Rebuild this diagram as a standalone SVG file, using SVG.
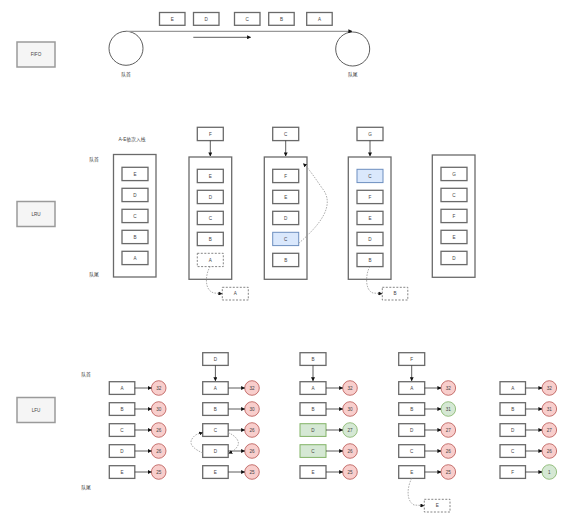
<svg xmlns="http://www.w3.org/2000/svg" width="567" height="520" viewBox="0 0 567 520">
<defs>
<style>
.bg{fill:#ffffff}
.lbl{fill:#f5f5f5;stroke:#9a9a9a;stroke-width:1.5}
.box{fill:#ffffff;stroke:#6a6a6a;stroke-width:1.3}
.cont{fill:#ffffff;stroke:#6a6a6a;stroke-width:1.3}
.dash{fill:#ffffff;stroke:#777;stroke-width:0.9;stroke-dasharray:2 1.5}
.blue{fill:#dae8fc;stroke:#6c8ebf;stroke-width:1}
.green{fill:#d5e8d4;stroke:#82b366;stroke-width:1}
.red{fill:#f8cecc;stroke:#b85450;stroke-width:0.8}
.gc{fill:#d5e8d4;stroke:#82b366;stroke-width:0.8}
.ring{fill:#ffffff;stroke:#333;stroke-width:0.8}
text{font-family:"Liberation Sans","Noto Sans CJK SC",sans-serif;font-size:4.6px;fill:#444;text-anchor:middle;dominant-baseline:central}
.cn{font-size:4.8px}
.ln{fill:none;stroke:#333;stroke-width:0.8}
.dl{fill:none;stroke:#999;stroke-width:0.8;stroke-dasharray:1.6 1.2}
</style>
<marker id="ah" viewBox="0 0 10 10" refX="9" refY="5" markerWidth="4" markerHeight="4" markerUnits="userSpaceOnUse" orient="auto">
<path d="M0,0 L10,5 L0,10 Z" fill="#111"/>
</marker>
</defs>
<rect class="bg" x="0" y="0" width="567" height="520"/>

<!-- FIFO -->
<g id="fifo-label"><rect class="lbl" x="17" y="42" width="38" height="25"/><text x="36" y="54.5">FIFO</text></g>
<g id="fifo-E"><rect class="box" x="159.5" y="12.5" width="25.5" height="12.8"/><text x="172.2" y="19">E</text></g>
<g id="fifo-D"><rect class="box" x="193.5" y="12.5" width="25.5" height="12.8"/><text x="206.2" y="19">D</text></g>
<g id="fifo-C"><rect class="box" x="234.5" y="12.5" width="25.5" height="12.8"/><text x="247.2" y="19">C</text></g>
<g id="fifo-B"><rect class="box" x="268.7" y="12.5" width="25.5" height="12.8"/><text x="281.5" y="19">B</text></g>
<g id="fifo-A"><rect class="box" x="306.7" y="12.5" width="25.5" height="12.8"/><text x="319.5" y="19">A</text></g>
<g id="fifo-head"><circle class="ring" cx="126" cy="48.3" r="17"/><text class="cn" x="126" y="74">队首</text></g>
<g id="fifo-tail"><circle class="ring" cx="352.7" cy="49" r="17"/><text class="cn" x="352.7" y="74.7">队尾</text></g>

<!-- LRU -->
<g id="lru-label"><rect class="lbl" x="17" y="201.5" width="38" height="25"/><text x="36" y="214">LRU</text></g>
<text class="cn" x="132" y="139">A-E依次入栈</text>
<text class="cn" x="94" y="159">队首</text>
<text class="cn" x="94" y="274">队尾</text>

<g id="lru-q1">
<rect class="cont" x="113.5" y="154.5" width="42.5" height="122.5"/>
<rect class="box" x="122" y="167.3" width="26" height="13.3"/><text x="135" y="174">E</text>
<rect class="box" x="122" y="188.3" width="26" height="13.3"/><text x="135" y="195">D</text>
<rect class="box" x="122" y="209.3" width="26" height="13.3"/><text x="135" y="216">C</text>
<rect class="box" x="122" y="230.3" width="26" height="13.3"/><text x="135" y="237">B</text>
<rect class="box" x="122" y="251.3" width="26" height="13.3"/><text x="135" y="258">A</text>
</g>

<g id="lru-in1"><rect class="box" x="197.3" y="127.3" width="26" height="13.3"/><text x="210.3" y="134">F</text></g>
<g id="lru-q2">
<rect class="cont" x="189" y="157" width="42.7" height="122.3"/>
<rect class="box" x="197.3" y="169.3" width="26" height="13.3"/><text x="210.3" y="176">E</text>
<rect class="box" x="197.3" y="190.3" width="26" height="13.3"/><text x="210.3" y="197">D</text>
<rect class="box" x="197.3" y="211.3" width="26" height="13.3"/><text x="210.3" y="218">C</text>
<rect class="box" x="197.3" y="232.3" width="26" height="13.3"/><text x="210.3" y="239">B</text>
<rect class="dash" x="197.3" y="253.3" width="26" height="13.3"/><text x="210.3" y="260">A</text>
</g>
<g id="lru-out1"><rect class="dash" x="222.3" y="287.3" width="26" height="12.7"/><text x="235.3" y="293.7">A</text></g>

<g id="lru-in2"><rect class="box" x="272.7" y="127.3" width="26" height="13.3"/><text x="285.7" y="134">C</text></g>
<g id="lru-q3">
<rect class="cont" x="264.3" y="157" width="42.7" height="122.3"/>
<rect class="box" x="272.7" y="169.3" width="26" height="13.3"/><text x="285.7" y="176">F</text>
<rect class="box" x="272.7" y="190.3" width="26" height="13.3"/><text x="285.7" y="197">E</text>
<rect class="box" x="272.7" y="211.3" width="26" height="13.3"/><text x="285.7" y="218">D</text>
<rect class="blue" x="272.7" y="232.3" width="26" height="13.3"/><text x="285.7" y="239">C</text>
<rect class="box" x="272.7" y="253.3" width="26" height="13.3"/><text x="285.7" y="260">B</text>
</g>

<g id="lru-in3"><rect class="box" x="357" y="127.3" width="26" height="13.3"/><text x="370" y="134">G</text></g>
<g id="lru-q4">
<rect class="cont" x="348.3" y="157" width="42.7" height="122.3"/>
<rect class="blue" x="357" y="169.3" width="26" height="13.3"/><text x="370" y="176">C</text>
<rect class="box" x="357" y="190.3" width="26" height="13.3"/><text x="370" y="197">F</text>
<rect class="box" x="357" y="211.3" width="26" height="13.3"/><text x="370" y="218">E</text>
<rect class="box" x="357" y="232.3" width="26" height="13.3"/><text x="370" y="239">D</text>
<rect class="box" x="357" y="253.3" width="26" height="13.3"/><text x="370" y="260">B</text>
</g>
<g id="lru-out2"><rect class="dash" x="382.3" y="287.3" width="25.5" height="12.7"/><text x="395" y="293.7">B</text></g>

<g id="lru-q5">
<rect class="cont" x="432.3" y="155" width="42.7" height="122.3"/>
<rect class="box" x="441" y="167.3" width="26" height="13.3"/><text x="454" y="174">G</text>
<rect class="box" x="441" y="188.3" width="26" height="13.3"/><text x="454" y="195">C</text>
<rect class="box" x="441" y="209.3" width="26" height="13.3"/><text x="454" y="216">F</text>
<rect class="box" x="441" y="230.3" width="26" height="13.3"/><text x="454" y="237">E</text>
<rect class="box" x="441" y="251.3" width="26" height="13.3"/><text x="454" y="258">D</text>
</g>

<!-- LFU -->
<g id="lfu-label"><rect class="lbl" x="17" y="397.5" width="38" height="25"/><text x="36" y="410">LFU</text></g>
<text class="cn" x="86" y="374.5">队首</text>
<text class="cn" x="86" y="487">队尾</text>

<g id="lfu-c1">
<rect class="box" x="109.3" y="381.7" width="25.5" height="12.7"/><text x="122" y="388">A</text>
<rect class="box" x="109.3" y="402.7" width="25.5" height="12.7"/><text x="122" y="409">B</text>
<rect class="box" x="109.3" y="423.7" width="25.5" height="12.7"/><text x="122" y="430">C</text>
<rect class="box" x="109.3" y="444.7" width="25.5" height="12.7"/><text x="122" y="451">D</text>
<rect class="box" x="109.3" y="465.7" width="25.5" height="12.7"/><text x="122" y="472">E</text>
<circle class="red" cx="158.7" cy="388" r="7.3"/><text x="158.7" y="388">32</text>
<circle class="red" cx="158.7" cy="409" r="7.3"/><text x="158.7" y="409">30</text>
<circle class="red" cx="158.7" cy="430" r="7.3"/><text x="158.7" y="430">26</text>
<circle class="red" cx="158.7" cy="451" r="7.3"/><text x="158.7" y="451">26</text>
<circle class="red" cx="158.7" cy="472" r="7.3"/><text x="158.7" y="472">25</text>
</g>

<g id="lfu-in1"><rect class="box" x="202.7" y="352.7" width="25.5" height="12.7"/><text x="215.4" y="359">D</text></g>
<g id="lfu-c2">
<rect class="box" x="202.7" y="381.7" width="25.5" height="12.7"/><text x="215.4" y="388">A</text>
<rect class="box" x="202.7" y="402.7" width="25.5" height="12.7"/><text x="215.4" y="409">B</text>
<rect class="box" x="202.7" y="423.7" width="25.5" height="12.7"/><text x="215.4" y="430">C</text>
<rect class="box" x="202.7" y="444.7" width="25.5" height="12.7"/><text x="215.4" y="451">D</text>
<rect class="box" x="202.7" y="465.7" width="25.5" height="12.7"/><text x="215.4" y="472">E</text>
<circle class="red" cx="252" cy="388" r="7.3"/><text x="252" y="388">32</text>
<circle class="red" cx="252" cy="409" r="7.3"/><text x="252" y="409">30</text>
<circle class="red" cx="252" cy="430" r="7.3"/><text x="252" y="430">26</text>
<circle class="red" cx="252" cy="451" r="7.3"/><text x="252" y="451">26</text>
<circle class="red" cx="252" cy="472" r="7.3"/><text x="252" y="472">25</text>
</g>

<g id="lfu-in2"><rect class="box" x="300" y="352.7" width="26" height="12.7"/><text x="313" y="359">B</text></g>
<g id="lfu-c3">
<rect class="box" x="300" y="381.7" width="26" height="12.7"/><text x="313" y="388">A</text>
<rect class="box" x="300" y="402.7" width="26" height="12.7"/><text x="313" y="409">B</text>
<rect class="green" x="300" y="423.7" width="26" height="12.7"/><text x="313" y="430">D</text>
<rect class="green" x="300" y="444.7" width="26" height="12.7"/><text x="313" y="451">C</text>
<rect class="box" x="300" y="465.7" width="26" height="12.7"/><text x="313" y="472">E</text>
<circle class="red" cx="350" cy="388" r="7.3"/><text x="350" y="388">32</text>
<circle class="red" cx="350" cy="409" r="7.3"/><text x="350" y="409">30</text>
<circle class="gc" cx="350" cy="430" r="7.3"/><text x="350" y="430">27</text>
<circle class="red" cx="350" cy="451" r="7.3"/><text x="350" y="451">26</text>
<circle class="red" cx="350" cy="472" r="7.3"/><text x="350" y="472">25</text>
</g>

<g id="lfu-in3"><rect class="box" x="398.7" y="352.7" width="26" height="12.7"/><text x="411.7" y="359">F</text></g>
<g id="lfu-c4">
<rect class="box" x="398.7" y="381.7" width="26" height="12.7"/><text x="411.7" y="388">A</text>
<rect class="box" x="398.7" y="402.7" width="26" height="12.7"/><text x="411.7" y="409">B</text>
<rect class="box" x="398.7" y="423.7" width="26" height="12.7"/><text x="411.7" y="430">D</text>
<rect class="box" x="398.7" y="444.7" width="26" height="12.7"/><text x="411.7" y="451">C</text>
<rect class="box" x="398.7" y="465.7" width="26" height="12.7"/><text x="411.7" y="472">E</text>
<circle class="red" cx="448.3" cy="388" r="7.3"/><text x="448.3" y="388">32</text>
<circle class="gc" cx="448.3" cy="409" r="7.3"/><text x="448.3" y="409">31</text>
<circle class="red" cx="448.3" cy="430" r="7.3"/><text x="448.3" y="430">27</text>
<circle class="red" cx="448.3" cy="451" r="7.3"/><text x="448.3" y="451">26</text>
<circle class="red" cx="448.3" cy="472" r="7.3"/><text x="448.3" y="472">25</text>
</g>
<g id="lfu-out"><rect class="dash" x="424.3" y="499.3" width="25.7" height="12.7"/><text x="437.2" y="505.7">E</text></g>

<g id="lfu-c5">
<rect class="box" x="500" y="381.7" width="25.5" height="12.7"/><text x="512.7" y="388">A</text>
<rect class="box" x="500" y="402.7" width="25.5" height="12.7"/><text x="512.7" y="409">B</text>
<rect class="box" x="500" y="423.7" width="25.5" height="12.7"/><text x="512.7" y="430">D</text>
<rect class="box" x="500" y="444.7" width="25.5" height="12.7"/><text x="512.7" y="451">C</text>
<rect class="box" x="500" y="465.7" width="25.5" height="12.7"/><text x="512.7" y="472">F</text>
<circle class="red" cx="549.3" cy="388" r="7.3"/><text x="549.3" y="388">32</text>
<circle class="red" cx="549.3" cy="409" r="7.3"/><text x="549.3" y="409">31</text>
<circle class="red" cx="549.3" cy="430" r="7.3"/><text x="549.3" y="430">27</text>
<circle class="red" cx="549.3" cy="451" r="7.3"/><text x="549.3" y="451">26</text>
<circle class="gc" cx="549.3" cy="472" r="7.3"/><text x="549.3" y="472">1</text>
</g>

<g id="connectors">
<!-- FIFO -->
<path d="M126,31.3 L352,31.3" fill="none" stroke="#999" stroke-width="1.2" marker-end="url(#ah)"/>
<path class="ln" d="M193.3,37.3 L250.7,37.3" stroke-width="1" marker-end="url(#ah)"/>
<!-- LRU -->
<path class="ln" d="M210.3,140.6 L210.3,156" marker-end="url(#ah)"/>
<path class="ln" d="M285.7,140.6 L285.7,156" marker-end="url(#ah)"/>
<path class="ln" d="M370,140.6 L370,156" marker-end="url(#ah)"/>
<path class="dl" d="M210.3,266.6 C206,272 203,290 214,293 L222,293.7" marker-end="url(#ah)"/>
<path class="dl" d="M298.7,243.3 C320,225 336,205 322,188 C315,178 310,170 303.3,163.5" marker-end="url(#ah)"/>
<path class="dl" d="M370,266.6 C366,272 364,290 373,293 L382,293.7" marker-end="url(#ah)"/>
<!-- LFU -->
<path class="ln" d="M134.8,388 L151.4,388" marker-end="url(#ah)"/>
<path class="ln" d="M134.8,409 L151.4,409" marker-end="url(#ah)"/>
<path class="ln" d="M134.8,430 L151.4,430" marker-end="url(#ah)"/>
<path class="ln" d="M134.8,451 L151.4,451" marker-end="url(#ah)"/>
<path class="ln" d="M134.8,472 L151.4,472" marker-end="url(#ah)"/>
<path class="ln" d="M215.4,365.4 L215.4,380.8" marker-end="url(#ah)"/>
<path class="ln" d="M228.2,388 L244.7,388" marker-end="url(#ah)"/>
<path class="ln" d="M228.2,409 L244.7,409" marker-end="url(#ah)"/>
<path class="ln" d="M228.2,430 L244.7,430" marker-end="url(#ah)"/>
<path class="ln" d="M228.2,451 L244.7,451" marker-end="url(#ah)"/>
<path class="ln" d="M228.2,472 L244.7,472" marker-end="url(#ah)"/>
<path class="dl" d="M202.7,453 C196,450 188,445 192,439 C195,434 198,434 202.7,432.6" marker-end="url(#ah)"/>
<path class="dl" d="M228.2,432.6 C236,436 241,442 237,447 C234,451 232,452 228.7,453.3" marker-end="url(#ah)"/>
<path class="ln" d="M313,365.4 L313,380.8" marker-end="url(#ah)"/>
<path class="ln" d="M326,388 L342.7,388" marker-end="url(#ah)"/>
<path class="ln" d="M326,409 L342.7,409" marker-end="url(#ah)"/>
<path class="ln" d="M326,430 L342.7,430" marker-end="url(#ah)"/>
<path class="ln" d="M326,451 L342.7,451" marker-end="url(#ah)"/>
<path class="ln" d="M326,472 L342.7,472" marker-end="url(#ah)"/>
<path class="ln" d="M411.7,365.4 L411.7,380.8" marker-end="url(#ah)"/>
<path class="ln" d="M424.7,388 L441,388" marker-end="url(#ah)"/>
<path class="ln" d="M424.7,409 L441,409" marker-end="url(#ah)"/>
<path class="ln" d="M424.7,430 L441,430" marker-end="url(#ah)"/>
<path class="ln" d="M424.7,451 L441,451" marker-end="url(#ah)"/>
<path class="ln" d="M424.7,472 L441,472" marker-end="url(#ah)"/>
<path class="dl" d="M411.7,478.4 C408,485 405,500 414,505 L424,505.7" marker-end="url(#ah)"/>
<path class="ln" d="M525.5,388 L542,388" marker-end="url(#ah)"/>
<path class="ln" d="M525.5,409 L542,409" marker-end="url(#ah)"/>
<path class="ln" d="M525.5,430 L542,430" marker-end="url(#ah)"/>
<path class="ln" d="M525.5,451 L542,451" marker-end="url(#ah)"/>
<path class="ln" d="M525.5,472 L542,472" marker-end="url(#ah)"/>
</g>
</svg>
